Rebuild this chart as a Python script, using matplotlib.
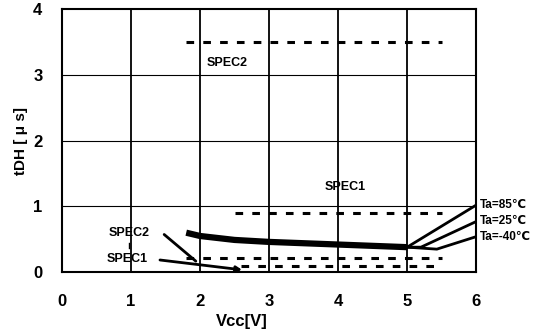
import matplotlib
matplotlib.use("Agg")
import matplotlib.pyplot as plt

plt.rcParams['font.family'] = ['Liberation Sans', 'DejaVu Sans']

# Measured curves
x_common = [1.8, 2.0, 2.5, 3.0, 3.5, 4.0, 4.5, 5.0]
y_common = [0.60, 0.55, 0.49, 0.46, 0.44, 0.42, 0.40, 0.38]
x_85 = [5.0, 6.0]
y_85 = [0.38, 1.02]
x_25 = [5.0, 5.2, 6.0]
y_25 = [0.38, 0.38, 0.77]
x_m40 = [5.0, 5.43, 6.0]
y_m40 = [0.38, 0.35, 0.54]

# Spec lines (level, x start, x end)
spec_levels = [3.5, 0.9, 0.21, 0.09]
spec_start = [1.8, 2.5, 1.8, 2.6]
spec_end = [5.5, 5.5, 5.5, 5.5]

x_ticks = [0, 1, 2, 3, 4, 5, 6]
y_ticks = [0, 1, 2, 3, 4]
temp_labels = ["Ta=85℃", "Ta=25℃", "Ta=-40℃"]

fig = plt.figure(figsize=(5.48, 3.36), dpi=100)
ax = fig.add_axes([0.113, 0.19, 0.756, 0.783])
ax.set_xlim(0, 6)
ax.set_ylim(0, 4)

for xv in x_ticks[1:-1]:
    ax.axvline(xv, color='black', lw=1.3, zorder=1)
for yv in y_ticks[1:-1]:
    ax.axhline(yv, color='black', lw=0.8, zorder=1)

for lv, xs, xe in zip(spec_levels, spec_start, spec_end):
    ax.plot([xs, xe], [lv, lv], color='black', lw=2.2, ls=(0, (2.5, 3)), zorder=2)

ax.plot(x_common, y_common, color='black', lw=4.5, solid_capstyle='butt', zorder=3)
ax.plot(x_85, y_85, color='black', lw=2, zorder=3)
ax.plot(x_25, y_25, color='black', lw=2, zorder=3)
ax.plot(x_m40, y_m40, color='black', lw=2, zorder=3)

# Labels
ax.text(2.4, 3.18, "SPEC2", fontsize=9, fontweight='bold', ha='center', va='center')
ax.text(4.1, 1.3, "SPEC1", fontsize=9, fontweight='bold', ha='center', va='center')
ax.text(0.97, 0.6, "SPEC2", fontsize=9, fontweight='bold', ha='center', va='center')
ax.text(0.95, 0.2, "SPEC1", fontsize=9, fontweight='bold', ha='center', va='center')
ax.plot([0.97, 0.97], [0.37, 0.44], color='black', lw=1)
ax.annotate("", xy=(1.97, 0.14), xytext=(1.45, 0.6),
            arrowprops=dict(arrowstyle='-', color='black', lw=2))
ax.annotate("", xy=(2.65, 0.03), xytext=(1.38, 0.19),
            arrowprops=dict(arrowstyle='-|>', color='black', lw=2, mutation_scale=8))

for lbl, yy in zip(temp_labels, [1.02, 0.78, 0.54]):
    ax.text(6.05, yy, lbl, fontsize=8.5, fontweight='bold', ha='left', va='center',
            clip_on=False)

ax.set_xticks(x_ticks)
ax.set_yticks(y_ticks)
ax.tick_params(axis='both', length=0, labelsize=12)
ax.tick_params(axis='x', pad=16)
ax.tick_params(axis='y', pad=14)
for t in ax.get_xticklabels() + ax.get_yticklabels():
    t.set_fontweight('bold')
ax.set_xlabel("Vcc[V]", fontsize=12, fontweight='bold')
ax.xaxis.set_label_coords(0.435, -0.16)
ax.set_ylabel("tDH [ μ s]", fontsize=11, fontweight='bold', labelpad=4)
for s in ax.spines.values():
    s.set_linewidth(1.5)

fig.savefig("out.png", dpi=100)
